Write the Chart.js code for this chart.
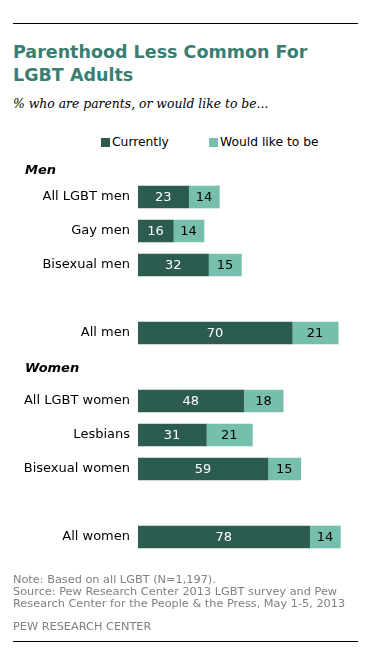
<!DOCTYPE html>
<html>
<head>
<meta charset="utf-8">
<script src="https://cdn.jsdelivr.net/npm/chart.js@4/dist/chart.umd.min.js"></script>
<style>
  body { margin: 0; background: #fff; font-family: "DejaVu Sans", Verdana, sans-serif; }
  #wrap { position: relative; width: 374px; height: 662px; overflow: hidden; }
  #wrap canvas { position: absolute; left: 0; top: 0; }
  .rule { position: absolute; left: 13px; width: 345px; height: 1px; background: #000; }
  #title { position: absolute; left: 13px; top: 41px; font-size: 17.5px; font-weight: bold; line-height: 23px; color: #3a7d71; }
  #sub { position: absolute; left: 13px; top: 96px; font-family: "DejaVu Serif", Georgia, serif; font-style: italic; font-size: 12.4px; color: #000; }
  .leg { position: absolute; top: 135px; font-size: 12.3px; color: #000; }
  .leg i { display: inline-block; width: 9px; height: 9px; margin-right: 2px; vertical-align: -1px; }
  #notes { position: absolute; left: 13px; top: 574px; font-size: 11.3px; line-height: 12px; color: #808080; }
  #org { position: absolute; left: 13px; top: 620px; font-size: 11.3px; color: #808080; }
</style>
</head>
<body>
<div id="wrap">
  <div class="rule" style="top:23px"></div>
  <div id="title">Parenthood Less Common For<br>LGBT Adults</div>
  <div id="sub">% who are parents, or would like to be...</div>
  <div class="leg" style="left:101px"><i style="background:#2c5b4f"></i>Currently</div>
  <div class="leg" style="left:209px"><i style="background:#76bfad"></i>Would like to be</div>
  <canvas id="chart" width="374" height="662"></canvas>
  <div id="notes">Note: Based on all LGBT (N=1,197).<br>Source: Pew Research Center 2013 LGBT survey and Pew<br>Research Center for the People &amp; the Press, May 1-5, 2013</div>
  <div id="org">PEW RESEARCH CENTER</div>
  <div class="rule" style="top:641px"></div>
</div>
<script>
var categories = ["Men", "All LGBT men", "Gay men", "Bisexual men", "", "All men",
                  "Women", "All LGBT women", "Lesbians", "Bisexual women", " ", "All women"];
var headers = ["Men", "Women"];
var currently = [null, 23, 16, 32, null, 70, null, 48, 31, 59, null, 78];
var wouldLike = [null, 14, 14, 15, null, 21, null, 18, 21, 15, null, 14];

var dark = "#2c5b4f";
var light = "#76bfad";

// draws the values inside the bars and the group headers
var barLabels = {
    id: "barLabels",
    afterDatasetsDraw: function(chart) {
        var ctx = chart.ctx;
        ctx.save();
        ctx.font = "13px 'DejaVu Sans'";
        ctx.textAlign = "center";
        ctx.textBaseline = "middle";
        chart.data.datasets.forEach(function(ds, di) {
            var meta = chart.getDatasetMeta(di);
            meta.data.forEach(function(bar, i) {
                if (ds.data[i] == null) return;
                ctx.fillStyle = di === 0 ? "#fff" : "#000";
                ctx.fillText(ds.data[i], (bar.x + bar.base) / 2, bar.y + 1);
            });
        });
        var yScale = chart.scales.y;
        ctx.font = "italic bold 13px 'DejaVu Sans'";
        ctx.textAlign = "left";
        ctx.fillStyle = "#000";
        for (var i = 0; i < categories.length; i++) {
            if (headers.indexOf(categories[i]) >= 0) {
                var off = categories[i] === "Men" ? 8 : 2;
                ctx.fillText(categories[i], 25, yScale.getPixelForValue(i) + off);
            }
        }
        ctx.restore();
    }
};

new Chart(document.getElementById("chart"), {
    type: "bar",
    data: {
        labels: categories,
        datasets: [
            { label: "Currently", data: currently, backgroundColor: dark, barThickness: 22 },
            { label: "Would like to be", data: wouldLike, backgroundColor: light, barThickness: 22 }
        ]
    },
    options: {
        indexAxis: "y",
        responsive: false,
        animation: false,
        layout: { padding: { top: 146, bottom: 108, right: 16, left: 0 } },
        plugins: { legend: { display: false }, tooltip: { enabled: false } },
        scales: {
            x: { display: false, stacked: true, min: 0, max: 100 },
            y: {
                stacked: true,
                grid: { display: false, drawTicks: false },
                border: { display: false },
                afterFit: function(scale) { scale.width = 138; },
                ticks: {
                    padding: 8,
                    color: "#000",
                    font: { family: "'DejaVu Sans'", size: 13 },
                    callback: function(v, i) {
                        var l = categories[i];
                        return headers.indexOf(l) >= 0 ? "" : l;
                    }
                }
            }
        }
    },
    plugins: [barLabels]
});
</script>
</body>
</html>
